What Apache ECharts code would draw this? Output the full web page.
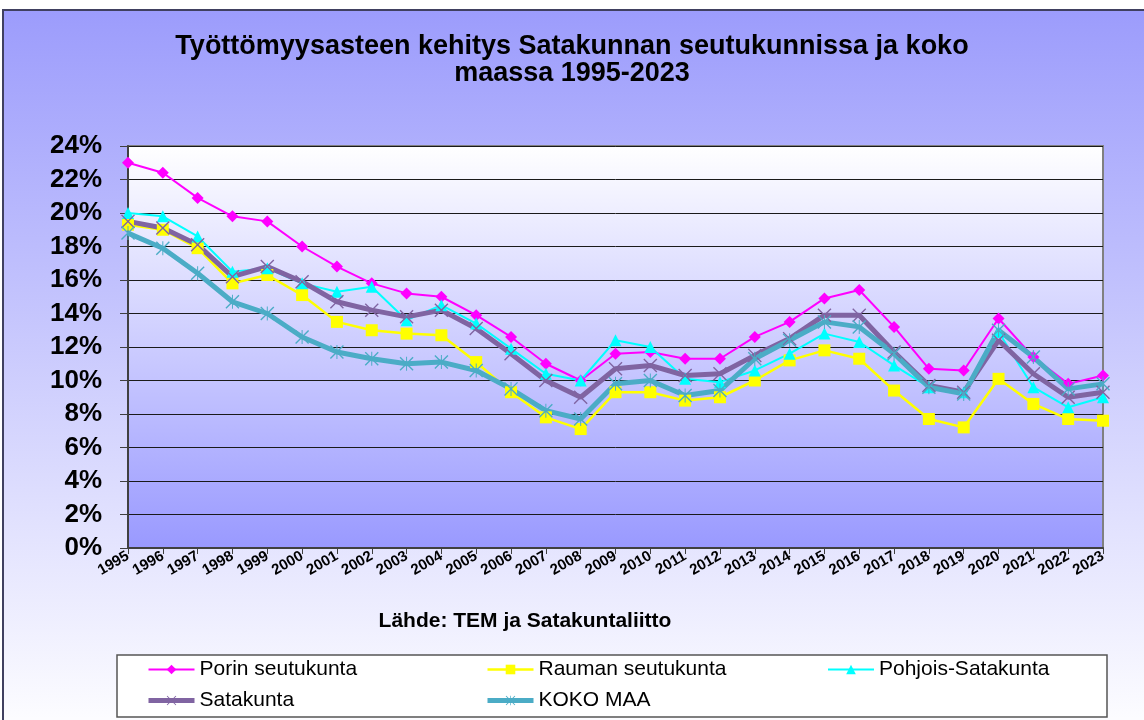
<!DOCTYPE html>
<html><head><meta charset="utf-8">
<script src="https://cdn.jsdelivr.net/npm/echarts@6/dist/echarts.min.js"></script>
<style>html,body{margin:0;padding:0;background:#fff}#c{width:1144px;height:720px}</style>
</head><body><div id="c"></div>
<script>
const years = ['1995','1996','1997','1998','1999','2000','2001','2002','2003','2004','2005','2006','2007','2008','2009','2010','2011','2012','2013','2014','2015','2016','2017','2018','2019','2020','2021','2022','2023'];
const yTicks = [0,2,4,6,8,10,12,14,16,18,20,22,24];
const porin = [23.0,22.4,20.9,19.8,19.5,18.0,16.8,15.8,15.2,15.0,13.9,12.6,11.0,10.0,11.6,11.7,11.3,11.3,12.6,13.5,14.9,15.4,13.2,10.7,10.6,13.7,11.4,9.8,10.3];
const rauma = [19.3,19.0,17.9,15.8,16.3,15.1,13.5,13.0,12.8,12.7,11.1,9.3,7.8,7.1,9.3,9.3,8.8,9.0,10.0,11.2,11.8,11.3,9.4,7.7,7.2,10.1,8.6,7.7,7.6];
const pohjois = [20.0,19.8,18.6,16.5,16.7,15.8,15.3,15.6,13.6,14.5,13.4,11.9,10.4,10.0,12.4,12.0,10.1,9.9,10.6,11.6,12.8,12.3,10.9,9.6,9.3,12.9,9.6,8.4,9.0];
const satakunta = [19.5,19.1,18.1,16.2,16.8,15.9,14.7,14.2,13.8,14.2,13.1,11.6,10.0,9.0,10.7,10.9,10.3,10.4,11.5,12.5,13.9,13.9,11.7,9.7,9.3,12.4,10.4,9.0,9.3];
const koko = [18.8,17.9,16.4,14.7,14.0,12.6,11.7,11.3,11.0,11.1,10.6,9.5,8.2,7.7,9.8,10.0,9.1,9.4,11.3,12.4,13.5,13.2,11.6,9.6,9.2,13.0,11.4,9.5,9.8];
const seriesNames = ['Porin seutukunta','Rauman seutukunta','Pohjois-Satakunta','Satakunta','KOKO MAA'];
const titleText = 'Työttömyysasteen kehitys Satakunnan seutukunnissa ja koko\nmaassa 1995-2023';
const sourceText = 'Lähde: TEM ja Satakuntaliitto';

const FONT = '"Liberation Sans", Arial, sans-serif';
const xPath = 'path://M0,1.4L1.4,0L20,18.6L18.6,20Z M18.6,0L20,1.4L1.4,20L0,18.6Z';
const starPath = 'path://M0,1.4L1.4,0L20,18.6L18.6,20Z M18.6,0L20,1.4L1.4,20L0,18.6Z M9.3,0L10.7,0L10.7,20L9.3,20Z';
const colors = ['#ff00ff','#ffff00','#00ffff','#8064a2','#4bacc6'];
const widths = [2, 2.5, 2, 5, 5];

const chart = echarts.init(document.getElementById('c'), null, {renderer: 'canvas'});
const mk = (i, data, symbol, size) => ({
  name: seriesNames[i], type: 'line', data, symbol, symbolSize: size,
  lineStyle: {color: colors[i], width: widths[i]}, itemStyle: {color: colors[i]},
  showSymbol: true, animation: false, emphasis: {disabled: true}
});
const legItem = i => ({name: seriesNames[i], lineStyle: {width: widths[i], color: colors[i]}});
const legendBase = {
  orient: 'vertical', top: 659, itemGap: 10, itemWidth: 46, itemHeight: 12,
  textStyle: {fontFamily: FONT, fontSize: 21, color: '#000'}, selectedMode: false, padding: 0
};
chart.setOption({
  animation: false,
  title: {
    text: titleText, left: 'center', top: 28,
    textStyle: {fontFamily: FONT, fontSize: 27, fontWeight: 'bold', color: '#000', lineHeight: 27}
  },
  graphic: [
    {type: 'rect', z: -10, shape: {x: 3, y: 10, width: 1160, height: 730},
     style: {fill: new echarts.graphic.LinearGradient(0, 0, 0, 1, [{offset: 0, color: '#9c9cfc'}, {offset: 1, color: '#ffffff'}]),
             stroke: '#404060', lineWidth: 2}},
    {type: 'rect', z: 1, shape: {x: 117, y: 655, width: 990, height: 62},
     style: {fill: '#ffffff', stroke: '#555555', lineWidth: 1.5}},
    {type: 'text', z: 5, x: 525, y: 621,
     style: {text: sourceText, fill: '#000', font: 'bold 21px ' + FONT, textAlign: 'center', textVerticalAlign: 'middle'}}
  ],
  legend: [
    Object.assign({left: 146, data: [legItem(0), legItem(3)]}, legendBase),
    Object.assign({left: 485, data: [legItem(1), legItem(4)]}, legendBase),
    Object.assign({left: 827, data: [legItem(2)]}, legendBase)
  ],
  grid: {
    left: 128, right: 41, top: 146, bottom: 172, show: true, borderColor: '#808080', borderWidth: 2,
    backgroundColor: new echarts.graphic.LinearGradient(0, 0, 0, 1, [{offset: 0, color: '#ffffff'}, {offset: 1, color: '#9999ff'}])
  },
  xAxis: {
    type: 'category', data: years, boundaryGap: false,
    axisLine: {lineStyle: {color: '#404040', width: 2}},
    axisTick: {show: true, length: 6, lineStyle: {color: '#404040'}, interval: 0},
    axisLabel: {interval: 0, rotate: 30, margin: 7, fontFamily: FONT, fontSize: 15, fontWeight: 'bold', color: '#000'},
    splitLine: {show: false}
  },
  yAxis: {
    type: 'value', min: yTicks[0], max: yTicks[yTicks.length - 1], interval: 2,
    axisLine: {show: true, lineStyle: {color: '#404040', width: 2}},
    axisTick: {show: true, length: 8, lineStyle: {color: '#404040'}},
    axisLabel: {formatter: '{value}%', margin: 26, fontFamily: FONT, fontSize: 26, fontWeight: 'bold', color: '#000'},
    splitLine: {show: true, lineStyle: {color: '#1a1a1a', width: 1}}
  },
  series: [
    mk(0, porin, 'diamond', 12),
    mk(1, rauma, 'rect', 12),
    mk(2, pohjois, 'triangle', 12),
    mk(3, satakunta, xPath, 14),
    mk(4, koko, starPath, 14)
  ]
});
</script></body></html>
